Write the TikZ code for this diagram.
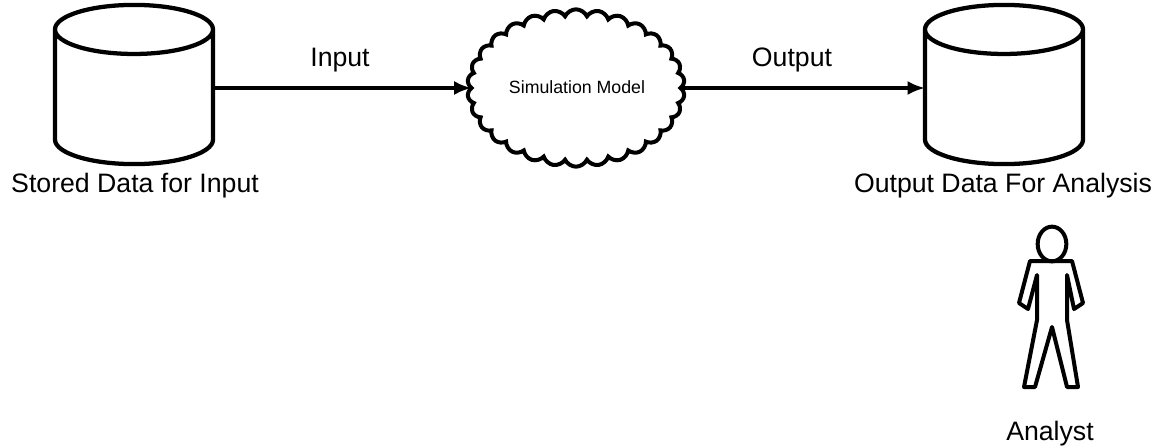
\documentclass[tikz,border=0pt]{standalone}
\usepackage{fontspec}
\setmainfont{Liberation Sans}
\usetikzlibrary{shapes,arrows,arrows.meta,positioning}

\begin{document}
\begin{tikzpicture}[x=0.75pt, y=-0.75pt, node distance = 0.5cm, auto]
            % Estilos
            \tikzstyle{store} = [cylinder, draw, line width=3.2pt, shape border rotate=90, aspect=0.46,
            minimum width=118.5pt, minimum height=110.5pt, outer sep=0pt, inner sep=40pt, anchor=shape center]
            \tikzstyle{label} = [inner sep=0pt, font=\fontsize{20}{24}\selectfont]
            \tikzstyle{flow} = [draw, line width=3pt, -{Latex[length=13pt,width=10.5pt]}]
            \tikzstyle{body} = [draw, line width=3pt, line join=round]

            \useasboundingbox (0,0) rectangle (1156,446);

            \node [store] (stored) at (134,84.5) {};
            \node [store] (output) at (1004,84.5) {};
            \node [cloud, draw, line width=3pt, cloud puffs=30, cloud puff arc=130, aspect=1.4,
            minimum width=163pt, minimum height=118pt, outer sep=0pt, inner sep=0pt] (model) at (576,88) {};
            \node [font=\fontsize{13.3}{16}\selectfont, inner sep=0pt] (modellabel) at (577,87) {Simulation Model};

            \node [label] (storedlabel) at (135,186) {Stored Data for Input};
            \node [label] (outputlabel) at (1003,186) {Output Data For Analysis};
            \node [label] (inputlabel) at (340,60) {Input};
            \node [label] (outputflow) at (792,60) {Output};

            \draw [flow] (stored.east |- model.west) -- (model.west);
            \draw [flow] (model.east) -- (output.west |- model.east);

            \node [draw, ellipse, line width=3pt, minimum width=21.5pt, minimum height=26pt, inner sep=0pt] (head) at (1052,244) {};
            \draw [body] (1030,261) -- (1019,303) -- (1028,309) -- (1037,275) -- (1037,320) -- (1024,387) -- (1035,387) -- (1052,327) -- (1067,387) -- (1078,387) -- (1067,320) -- (1067,275) -- (1074,309) -- (1083,303) -- (1072,261) -- cycle;
            \node [label] (analyst) at (1050,434) {Analyst};
      \end{tikzpicture}
\end{document}
